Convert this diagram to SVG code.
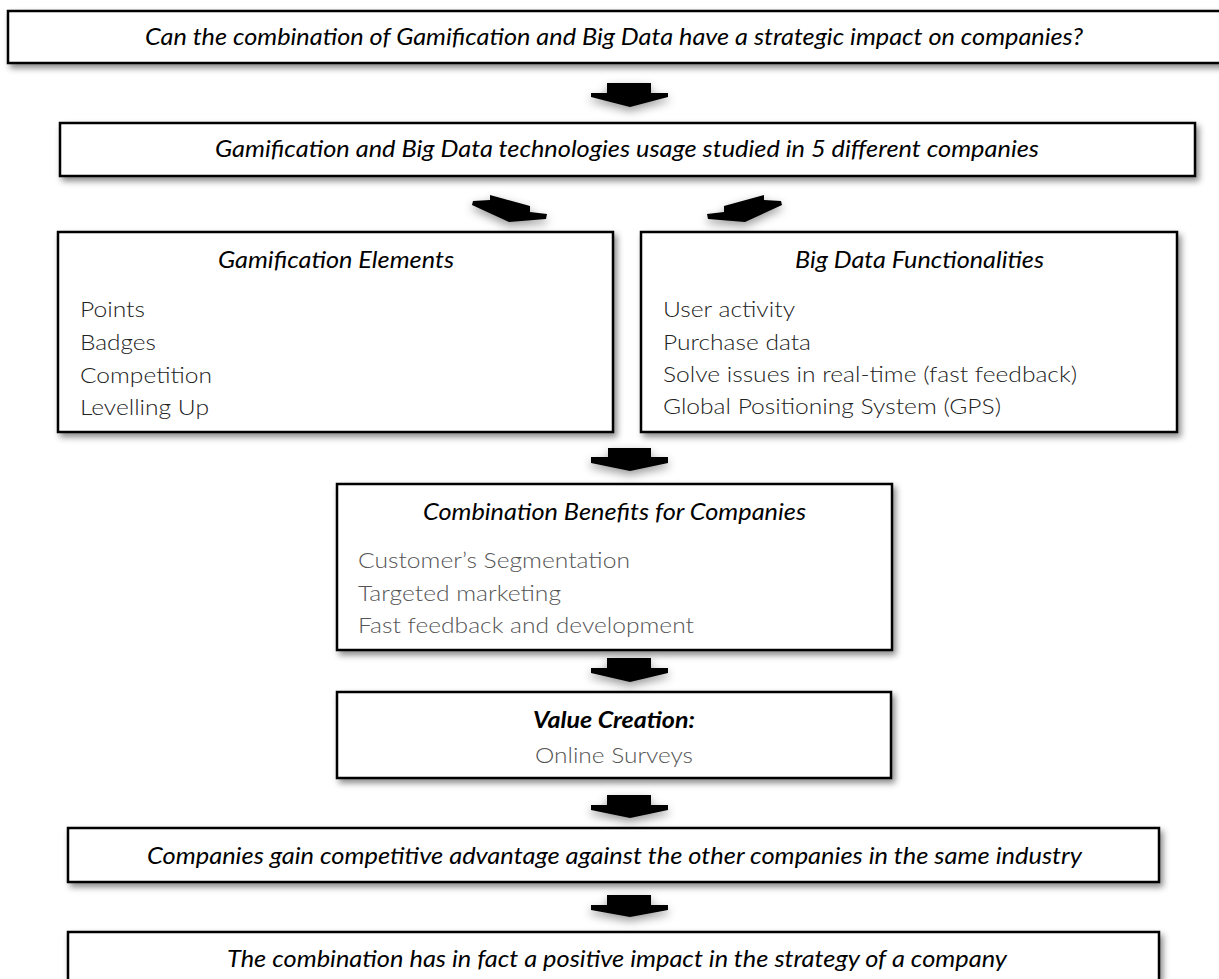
<svg xmlns="http://www.w3.org/2000/svg" width="1219" height="979" viewBox="0 0 1219 979">
<defs>
<filter id="sh" x="-10%" y="-30%" width="120%" height="170%">
<feDropShadow dx="3" dy="4" stdDeviation="3" flood-color="#000" flood-opacity="0.45"/>
</filter>
<filter id="ash" x="-40%" y="-60%" width="180%" height="260%">
<feDropShadow dx="0" dy="4" stdDeviation="5" flood-color="#000" flood-opacity="0.4"/>
</filter>
</defs>
<style>
.box{fill:#fff;stroke:#000;stroke-width:2.5}
.arr{fill:#000}
.hd{font-family:Lato,"Liberation Sans",sans-serif;font-style:italic;font-size:23px;fill:#000}
.li{font-family:Lato,"Liberation Sans",sans-serif;font-weight:300;font-size:22px;fill:#222}
.lg{font-family:Lato,"Liberation Sans",sans-serif;font-weight:300;font-size:22px;fill:#555}
</style>
<g id="connectors">
<polygon class="arr" filter="url(#ash)" points="607,83 651,83 651,93 668,93 668,97 630,107 591,97 591,93 607,93"/>
<polygon class="arr" filter="url(#ash)" points="490,195 530,206 530,212 547,214 546,219 509,222 472,205 473,201 490,200"/>
<polygon class="arr" filter="url(#ash)" points="764,195 724,206 724,212 707,214 708,219 745,222 782,205 781,201 764,200"/>
<polygon class="arr" filter="url(#ash)" points="608,448 651,448 651,457 668,457 668,463 630,471 591,463 591,457 608,457"/>
<polygon class="arr" filter="url(#ash)" points="607,658 651,658 651,668 668,668 668,673 630,682 591,673 591,668 607,668"/>
<polygon class="arr" filter="url(#ash)" points="607,795 651,795 651,805 668,805 668,810 630,818 591,810 591,805 607,805"/>
<polygon class="arr" filter="url(#ash)" points="607,895 651,895 651,905 668,905 668,910 630,917 591,910 591,905 607,905"/>
</g>
<g id="n-question">
<rect class="box" filter="url(#sh)" x="8" y="11" width="1230" height="52"/>
<text class="hd" x="145" y="45" textLength="938" lengthAdjust="spacingAndGlyphs">Can the combination of Gamification and Big Data have a strategic impact on companies?</text>
</g>
<g id="n-study">
<rect class="box" filter="url(#sh)" x="60" y="123" width="1135" height="53"/>
<text class="hd" x="215" y="157" textLength="824" lengthAdjust="spacingAndGlyphs">Gamification and Big Data technologies usage studied in 5 different companies</text>
</g>
<g id="n-gamification">
<rect class="box" filter="url(#sh)" x="58" y="232" width="555" height="200"/>
<text class="hd" x="218" y="268" textLength="236" lengthAdjust="spacingAndGlyphs">Gamification Elements</text>
<text class="li" x="80" y="317" textLength="65" lengthAdjust="spacingAndGlyphs">Points</text>
<text class="li" x="80" y="350" textLength="76" lengthAdjust="spacingAndGlyphs">Badges</text>
<text class="li" x="80" y="383" textLength="132" lengthAdjust="spacingAndGlyphs">Competition</text>
<text class="li" x="80" y="415" textLength="129" lengthAdjust="spacingAndGlyphs">Levelling Up</text>
</g>
<g id="n-bigdata">
<rect class="box" filter="url(#sh)" x="641" y="232" width="536" height="200"/>
<text class="hd" x="795" y="268" textLength="249" lengthAdjust="spacingAndGlyphs">Big Data Functionalities</text>
<text class="li" x="663" y="317" textLength="132" lengthAdjust="spacingAndGlyphs">User activity</text>
<text class="li" x="663" y="350" textLength="148" lengthAdjust="spacingAndGlyphs">Purchase data</text>
<text class="li" x="663" y="382" textLength="414" lengthAdjust="spacingAndGlyphs">Solve issues in real-time (fast feedback)</text>
<text class="li" x="663" y="414" textLength="338" lengthAdjust="spacingAndGlyphs">Global Positioning System (GPS)</text>
</g>
<g id="n-benefits">
<rect class="box" filter="url(#sh)" x="337" y="484" width="555" height="166"/>
<text class="hd" x="423" y="520" textLength="383" lengthAdjust="spacingAndGlyphs">Combination Benefits for Companies</text>
<text class="lg" x="358" y="568" textLength="272" lengthAdjust="spacingAndGlyphs">Customer’s Segmentation</text>
<text class="lg" x="358" y="601" textLength="203" lengthAdjust="spacingAndGlyphs">Targeted marketing</text>
<text class="lg" x="358" y="633" textLength="336" lengthAdjust="spacingAndGlyphs">Fast feedback and development</text>
</g>
<g id="n-value">
<rect class="box" filter="url(#sh)" x="337" y="692" width="554" height="86"/>
<text class="hd" x="533" y="728" font-weight="bold" textLength="162" lengthAdjust="spacingAndGlyphs">Value Creation:</text>
<text class="lg" x="535" y="763" textLength="158" lengthAdjust="spacingAndGlyphs">Online Surveys</text>
</g>
<g id="n-advantage">
<rect class="box" filter="url(#sh)" x="68" y="828" width="1091" height="54"/>
<text class="hd" x="147" y="864" textLength="935" lengthAdjust="spacingAndGlyphs">Companies gain competitive advantage against the other companies in the same industry</text>
</g>
<g id="n-conclusion">
<rect class="box" filter="url(#sh)" x="68" y="932" width="1091" height="60"/>
<text class="hd" x="227" y="967" textLength="780" lengthAdjust="spacingAndGlyphs">The combination has in fact a positive impact in the strategy of a company</text>
</g>
</svg>
